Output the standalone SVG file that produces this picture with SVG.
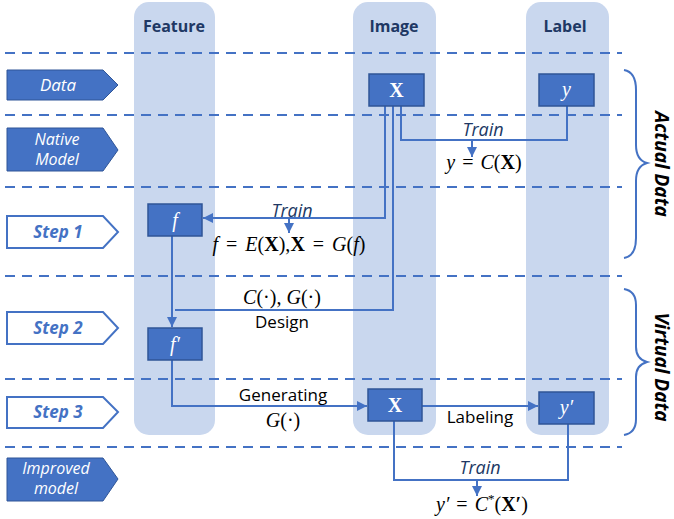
<svg xmlns="http://www.w3.org/2000/svg" width="674" height="519" viewBox="0 0 674 519">
<defs>
<style>
.band{fill:#C9D7EE}
.dash{stroke:#4472C4;stroke-width:2;stroke-dasharray:10,7;fill:none}
.hdr{font-family:"Open Sans","Liberation Sans",sans-serif;font-weight:bold;font-size:16px;fill:#203864;text-anchor:middle}
.tagF{fill:#4472C4;stroke:#2F5597;stroke-width:1}
.tagO{fill:#fff;stroke:#4472C4;stroke-width:2}
.tagtF{font-family:"Open Sans","Liberation Sans",sans-serif;font-style:italic;font-size:17px;fill:#fff;text-anchor:middle}
.tagt2{font-family:"Open Sans","Liberation Sans",sans-serif;font-style:italic;font-size:16px;fill:#fff;text-anchor:middle}
.tagtO{font-family:"Open Sans","Liberation Sans",sans-serif;font-style:italic;font-weight:bold;font-size:17px;fill:#4472C4;text-anchor:middle}
.node{fill:#4472C4;stroke:#2F5597;stroke-width:1.5}
.nt{font-family:"Liberation Serif",serif;font-style:italic;font-size:20px;fill:#fff;text-anchor:middle}
.ntb{font-family:"Liberation Serif",serif;font-weight:bold;font-size:20px;fill:#fff;text-anchor:middle}
.ln{stroke:#4472C4;stroke-width:2;fill:none}
.train{font-family:"Open Sans","Liberation Sans",sans-serif;font-style:italic;font-size:18px;fill:#203864;text-anchor:middle}
.lab{font-family:"Open Sans","Liberation Sans",sans-serif;font-size:17px;fill:#000;text-anchor:middle}
.math{font-family:"Liberation Serif",serif;font-size:20px;fill:#000;text-anchor:middle}
.side{font-family:"Open Sans","Liberation Sans",sans-serif;font-style:italic;font-weight:bold;font-size:19px;fill:#000;text-anchor:middle}
</style>
<marker id="ah" viewBox="0 0 10 10" refX="10" refY="5" markerWidth="5" markerHeight="5" orient="auto" markerUnits="strokeWidth">
<path d="M0,0 L10,5 L0,10 z" fill="#4472C4"/>
</marker>
</defs>

<g id="bands">
<rect class="band" x="134" y="2" width="81" height="433" rx="15"/>
<rect class="band" x="353" y="2" width="83" height="433" rx="15"/>
<rect class="band" x="526" y="2" width="83" height="433" rx="15"/>
<text class="hdr" x="174" y="32">Feature</text>
<text class="hdr" x="394" y="32">Image</text>
<text class="hdr" x="565" y="32">Label</text>
</g>

<g id="dashes">
<line class="dash" x1="5" y1="53" x2="622" y2="53"/>
<line class="dash" x1="5" y1="115" x2="622" y2="115"/>
<line class="dash" x1="5" y1="187" x2="622" y2="187"/>
<line class="dash" x1="5" y1="276" x2="622" y2="276"/>
<line class="dash" x1="5" y1="379" x2="622" y2="379"/>
<line class="dash" x1="5" y1="447" x2="622" y2="447"/>
</g>

<g id="tag-data"><path class="tagF" d="M7,70 H103 L118,85 L103,100 H7 Z"/><text class="tagtF" x="58" y="91">Data</text></g>
<g id="tag-native"><path class="tagF" d="M7,128 H103 L118,150 L103,171 H7 Z"/><text class="tagt2" x="57" y="145">Native</text><text class="tagt2" x="57" y="165">Model</text></g>
<g id="tag-step1"><path class="tagO" d="M7,216 H103 L118,232 L103,248 H7 Z"/><text class="tagtO" x="58" y="238">Step 1</text></g>
<g id="tag-step2"><path class="tagO" d="M7,312 H103 L118,328 L103,344 H7 Z"/><text class="tagtO" x="58" y="334">Step 2</text></g>
<g id="tag-step3"><path class="tagO" d="M7,397 H103 L118,412 L103,428 H7 Z"/><text class="tagtO" x="58" y="418">Step 3</text></g>
<g id="tag-improved"><path class="tagF" d="M7,458 H103 L118,479 L103,501 H7 Z"/><text class="tagt2" x="56" y="474">Improved</text><text class="tagt2" x="56" y="494">model</text></g>

<g id="connectors">
<path class="ln" d="M401,106 V140 H567 V106"/>
<line class="ln" x1="472" y1="140" x2="472" y2="157" marker-end="url(#ah)"/>
<path class="ln" d="M385,106 V218 H203" marker-end="url(#ah)"/>
<line class="ln" x1="289" y1="218" x2="289" y2="233" marker-end="url(#ah)"/>
<path class="ln" d="M393,106 V310 H175"/>
<line class="ln" x1="172" y1="236" x2="172" y2="327" marker-end="url(#ah)"/>
<path class="ln" d="M172,360 V406 H367" marker-end="url(#ah)"/>
<line class="ln" x1="422" y1="406" x2="538" y2="406" marker-end="url(#ah)"/>
<path class="ln" d="M394,421 V480 H568 V424"/>
<line class="ln" x1="477" y1="480" x2="477" y2="496" marker-end="url(#ah)"/>
</g>

<g id="conn-labels">
<text class="train" x="483" y="136">Train</text>
<text class="math" x="484" y="169" word-spacing="2"><tspan font-style="italic">y</tspan> = <tspan font-style="italic">C</tspan>(<tspan font-weight="bold">X</tspan>)</text>
<text class="train" x="292" y="217">Train</text>
<text class="math" x="289" y="251" word-spacing="3"><tspan font-style="italic">f</tspan> = <tspan font-style="italic">E</tspan>(<tspan font-weight="bold">X</tspan>),<tspan font-weight="bold">X</tspan> = <tspan font-style="italic">G</tspan>(<tspan font-style="italic">f</tspan>)</text>
<text class="math" x="282" y="304"><tspan font-style="italic">C</tspan>(·), <tspan font-style="italic">G</tspan>(·)</text>
<text class="lab" x="282" y="328">Design</text>
<text class="lab" x="283" y="401">Generating</text>
<text class="math" x="283" y="427"><tspan font-style="italic">G</tspan>(·)</text>
<text class="lab" x="480" y="423">Labeling</text>
<text class="train" x="480" y="474">Train</text>
<text class="math" x="482" y="511" word-spacing="2"><tspan font-style="italic">y′</tspan> = <tspan font-style="italic">C</tspan><tspan font-size="13" dy="-8">*</tspan><tspan dy="8">(</tspan><tspan font-weight="bold">X′</tspan>)</text>
</g>

<g id="node-X1"><rect class="node" x="369" y="74" width="55" height="32"/><text class="ntb" x="396.5" y="97">X</text></g>
<g id="node-y"><rect class="node" x="539" y="74" width="55" height="32"/><text class="nt" x="566.5" y="96">y</text></g>
<g id="node-f"><rect class="node" x="148" y="204" width="54" height="32"/><text class="nt" x="175" y="227">f</text></g>
<g id="node-fp"><rect class="node" x="148" y="328" width="54" height="32"/><text class="nt" x="175" y="351">f′</text></g>
<g id="node-X2"><rect class="node" x="368" y="389" width="54" height="32"/><text class="ntb" x="395" y="412">X</text></g>
<g id="node-yp"><rect class="node" x="539" y="392" width="55" height="32"/><text class="nt" x="566.5" y="414">y′</text></g>

<g id="brace-actual">
<path class="ln" d="M624,70 Q636,72 636,90 V145 Q636,160 647,163 Q636,166 636,181 V238 Q636,256 624,258"/>
<text class="side" transform="translate(655,164) rotate(90)">Actual Data</text>
</g>
<g id="brace-virtual">
<path class="ln" d="M624,289 Q636,291 636,305 V347 Q636,359 647,362 Q636,365 636,377 V419 Q636,433 624,435"/>
<text class="side" transform="translate(655,367) rotate(90)">Virtual Data</text>
</g>
</svg>
